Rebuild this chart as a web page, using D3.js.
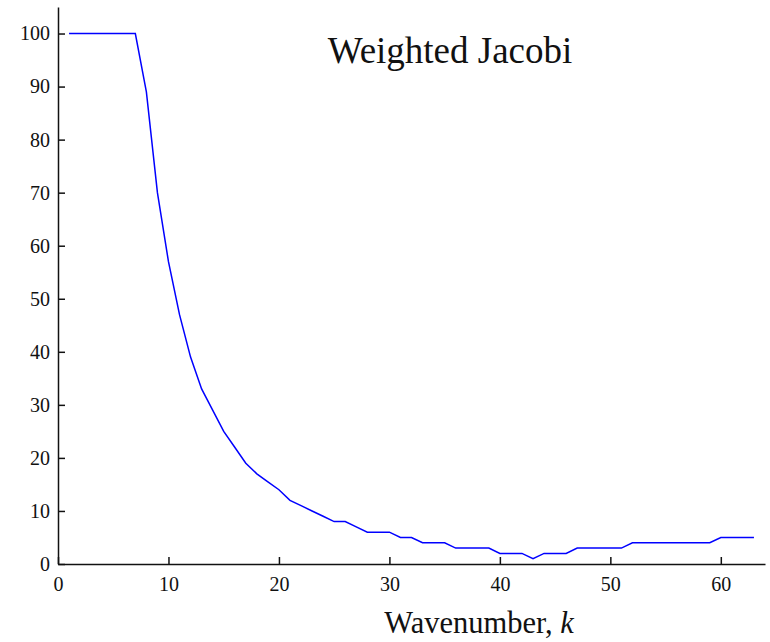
<!DOCTYPE html>
<html lang="en">
<head>
    <meta charset="UTF-8">
    <title>Weighted Jacobi</title>
    <script src="https://cdn.jsdelivr.net/npm/d3@7/dist/d3.min.js"></script>
    <style>
        body { margin: 0; background: #fff; }
        svg { display: block; }
        .axis path, .axis line { stroke: #111; stroke-width: 1.5px; }
        .curve { fill: none; stroke: #0000ff; stroke-width: 1.5px; }
    </style>
</head>
<body>
<script>

    /******* DATA *******/
    // wavenumber k = 1..63
    const wavenumbers = d3.range(1, 64);
    const values = [
        100, 100, 100, 100, 100, 100, 100, 89, 70, 57,
        47, 39, 33, 29, 25, 22, 19, 17, 15.5, 14,
        12, 11, 10, 9, 8, 8, 7, 6, 6, 6,
        5, 5, 4, 4, 4, 3, 3, 3, 3, 2,
        2, 2, 1, 2, 2, 2, 3, 3, 3, 3,
        3, 4, 4, 4, 4, 4, 4, 4, 4, 5,
        5, 5, 5
    ];
    const xTicks = [0, 10, 20, 30, 40, 50, 60];
    const yTicks = [0, 10, 20, 30, 40, 50, 60, 70, 80, 90, 100];
    const titleText = "Weighted Jacobi";

    const points = wavenumbers.map((k, i) => ({k: k, v: values[i]}));

    /******* SVG *******/
    const width = 770;
    const height = 642;
    const serif = "'Liberation Serif', 'Times New Roman', serif";
    const svg = d3.select("body").append("svg")
        .attr("width", width)
        .attr("height", height);

    const margins = {top: 7, bottom: 78, left: 58, right: 5};

    // Scales
    const xScale = d3.scaleLinear()
        .domain([0, 64])
        .range([margins.left, width - margins.right]);
    const yScale = d3.scaleLinear()
        .domain([0, 105])
        .range([height - margins.bottom, margins.top]);

    // Axes (ticks point inward)
    const xAxis = d3.axisBottom(xScale)
        .tickValues(xTicks)
        .tickSizeInner(-7)
        .tickSizeOuter(0)
        .tickPadding(13);
    const yAxis = d3.axisLeft(yScale)
        .tickValues(yTicks)
        .tickSizeInner(-7)
        .tickSizeOuter(0)
        .tickPadding(8);

    svg.append("g")
        .attr("class", "axis")
        .attr("transform", `translate(0,${height - margins.bottom})`)
        .call(xAxis)
        .selectAll("text")
        .style("font-family", serif)
        .style("font-size", "20px")
        .style("fill", "#111");
    svg.append("g")
        .attr("class", "axis")
        .attr("transform", `translate(${margins.left},0)`)
        .call(yAxis)
        .selectAll("text")
        .style("font-family", serif)
        .style("font-size", "20px")
        .style("fill", "#111");

    // Line
    const lineGen = d3.line()
        .x(d => xScale(d.k))
        .y(d => yScale(d.v));
    svg.append("path")
        .datum(points)
        .attr("class", "curve")
        .attr("d", lineGen);

    // Title inside plot
    svg.append("text")
        .attr("x", 450)
        .attr("y", 63)
        .attr("text-anchor", "middle")
        .style("font-family", serif)
        .style("font-size", "37px")
        .style("fill", "#111")
        .text(titleText);

    // X-Axis Title
    const xLabel = svg.append("text")
        .attr("x", 479)
        .attr("y", 633)
        .attr("text-anchor", "middle")
        .style("font-family", serif)
        .style("font-size", "30.5px")
        .style("fill", "#111");
    xLabel.append("tspan").text("Wavenumber, ");
    xLabel.append("tspan").style("font-style", "italic").text("k");

</script>
</body>
</html>
